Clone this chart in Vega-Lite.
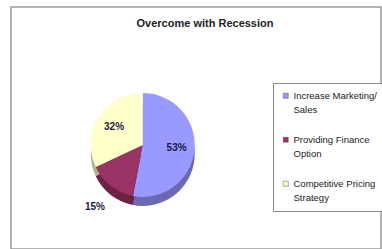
{
  "$schema": "https://vega.github.io/schema/vega-lite/v6.json",
  "autosize": "none",
  "width": 370,
  "height": 242,
  "padding": {"left": 11, "top": 7, "right": 1, "bottom": 0},
  "background": "white",
  "config": {
    "view": {"stroke": "#9a9a9a", "strokeWidth": 1.5},
    "style": {"guide-label": {"lineHeight": 14}}
  },
  "title": {
    "text": "Overcome with Recession",
    "anchor": "middle",
    "frame": "group",
    "dx": 9,
    "dy": 22,
    "offset": 0,
    "font": "Liberation Sans Narrow, Liberation Sans, Arial",
    "fontSize": 11,
    "fontWeight": "bold",
    "color": "#222222"
  },
  "data": {
    "values": [
      {"strategy": "Increase Marketing/ Sales", "share": 53, "label": "53%", "idx": 1},
      {"strategy": "Providing Finance Option", "share": 15, "label": "15%", "idx": 2},
      {"strategy": "Competitive Pricing Strategy", "share": 32, "label": "32%", "idx": 3}
    ]
  },
  "encoding": {
    "theta": {"field": "share", "type": "quantitative", "stack": true},
    "order": {"field": "idx", "type": "quantitative"},
    "x": {"datum": 0.356, "type": "quantitative", "scale": {"domain": [0, 1], "nice": false}, "axis": null},
    "y": {"datum": 0.43, "type": "quantitative", "scale": {"domain": [0, 1], "nice": false}, "axis": null}
  },
  "layer": [
    {
      "mark": {"type": "arc", "outerRadius": 52, "yOffset": 9},
      "encoding": {
        "color": {
          "field": "strategy",
          "type": "nominal",
          "sort": null,
          "scale": {
            "domain": ["Increase Marketing/ Sales", "Providing Finance Option", "Competitive Pricing Strategy"],
            "range": ["#9999FF", "#993366", "#FFFFCC"]
          },
          "legend": {
            "title": null,
            "orient": "none",
            "legendX": 262,
            "legendY": 76,
            "symbolType": "square",
            "symbolSize": 25,
            "symbolStrokeColor": "#555555",
            "symbolStrokeWidth": 0.5,
            "labelFont": "Liberation Sans Narrow, Liberation Sans, Arial",
            "labelFontSize": 9.5,
            "labelColor": "#222222",
            "labelLimit": 120,
            "labelOffset": 3,
            "labelExpr": "[slice(datum.label, 0, lastindexof(datum.label, ' ')), slice(datum.label, lastindexof(datum.label, ' ') + 1)]",
            "rowPadding": 19,
            "padding": 8,
            "strokeColor": "#888888",
            "fillColor": "white"
          }
        }
      }
    },
    {
      "mark": {"type": "arc", "outerRadius": 52, "yOffset": 9, "fill": "black", "opacity": 0.3}
    },
    {
      "mark": {"type": "arc", "outerRadius": 52},
      "encoding": {
        "color": {"field": "strategy", "type": "nominal", "sort": null}
      }
    },
    {
      "mark": {"type": "text", "radius": 34, "font": "Liberation Sans Narrow, Liberation Sans, Arial", "fontSize": 10, "fontWeight": "bold", "color": "#1a1a40"},
      "encoding": {
        "text": {"condition": {"test": "datum.share == 15", "value": ""}, "field": "label"}
      }
    },
    {
      "mark": {"type": "text", "radius": 78, "font": "Liberation Sans Narrow, Liberation Sans, Arial", "fontSize": 10, "fontWeight": "bold", "color": "#1a1a40"},
      "encoding": {
        "text": {"condition": {"test": "datum.share != 15", "value": ""}, "field": "label"}
      }
    }
  ]
}
